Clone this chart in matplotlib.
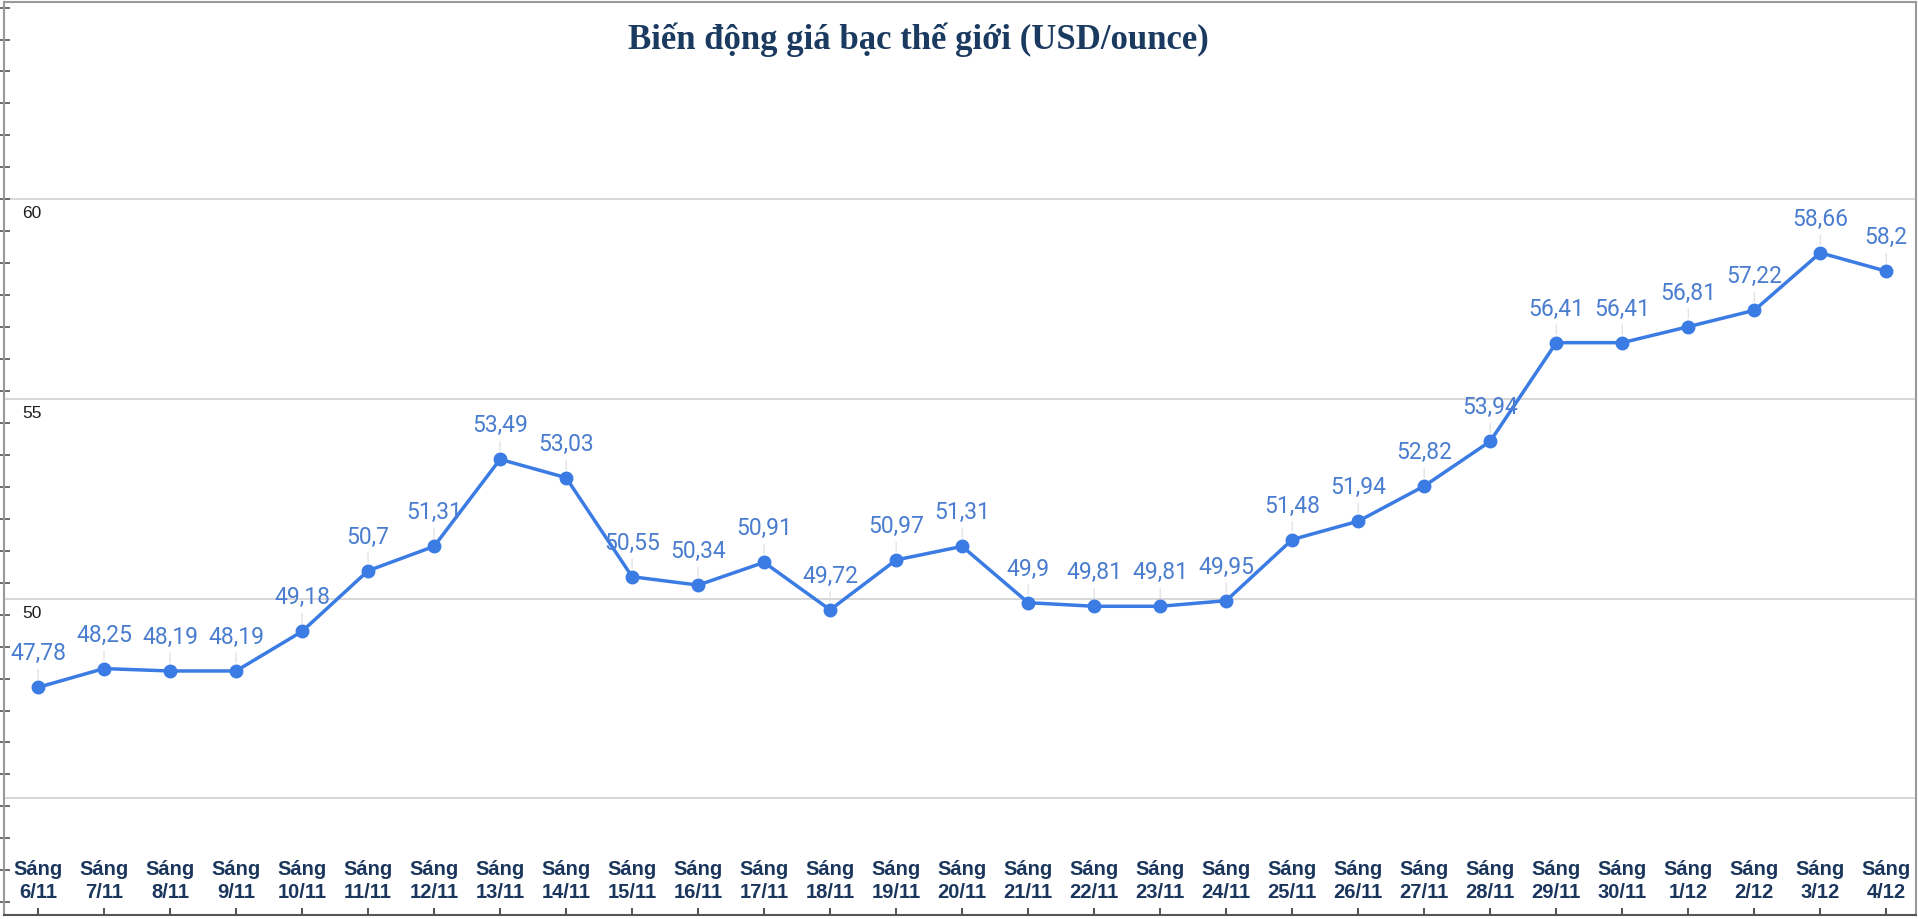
import numpy as np
import matplotlib
matplotlib.use("Agg")
import matplotlib.pyplot as plt
from matplotlib.ticker import MultipleLocator

# data: world silver price, USD/ounce, morning quotes
dates = ['6/11', '7/11', '8/11', '9/11', '10/11', '11/11', '12/11', '13/11', '14/11',
         '15/11', '16/11', '17/11', '18/11', '19/11', '20/11', '21/11', '22/11', '23/11',
         '24/11', '25/11', '26/11', '27/11', '28/11', '29/11', '30/11',
         '1/12', '2/12', '3/12', '4/12']
prices = [47.78, 48.25, 48.19, 48.19, 49.18, 50.7, 51.31, 53.49, 53.03,
          50.55, 50.34, 50.91, 49.72, 50.97, 51.31, 49.9, 49.81, 49.81,
          49.95, 51.48, 51.94, 52.82, 53.94, 56.41, 56.41,
          56.81, 57.22, 58.66, 58.2]
gridvals = [45, 50, 55, 60, 65]
ylabels = [50, 55, 60]
title = 'Biến động giá bạc thế giới (USD/ounce)'

W, H = 1918, 919
fig = plt.figure(figsize=(W / 100, H / 100), dpi=100)
ax = fig.add_axes([4 / W, 4 / H, 1912 / W, 913 / H])

x = np.arange(len(prices))
line_col = '#3b7be4'
ax.plot(x, prices, color=line_col, lw=2.5, marker='o', ms=9, zorder=3)

# value labels with faint leader lines
for xi, v in zip(x, prices):
    ax.annotate(str(v).replace('.', ','), xy=(xi, v), xytext=(0, 19.5),
                textcoords='offset points', ha='center', va='baseline',
                fontsize=16.5, family='Roboto', color='#4a7dcf', zorder=4,
                arrowprops=dict(arrowstyle='-', color='#dcdcdc', lw=0.8,
                                shrinkA=1, shrinkB=6))

ax.set_xlim(-0.515, 28.45)
ax.set_ylim(42.08, 64.94)

# gridlines
for t in gridvals:
    ax.axhline(t, color='#d4d4d4', lw=1.3, zorder=1)

# y labels sit inside the plot, just under their gridline
for t in ylabels:
    ax.annotate(str(t), xy=(0.0094, t), xycoords=('axes fraction', 'data'),
                xytext=(0, -5), textcoords='offset points', ha='left', va='top',
                fontsize=12.5, family='Liberation Sans', color='#1e1e1e')

# category labels inside the bottom of the plot
for xi, d in zip(x, dates):
    ax.text(xi, 0.014, 'Sáng\n' + d, transform=ax.get_xaxis_transform(),
            ha='center', va='bottom', fontsize=14.5, fontweight='bold',
            family='Liberation Sans', color='#1b365d', linespacing=1.25)

ax.set_xticks(x)
ax.set_xticklabels([])
ax.tick_params(axis='x', direction='in', length=5, color='#333333', width=1.2)
ax.set_yticks([])
ax.yaxis.set_minor_locator(MultipleLocator(0.8))
ax.tick_params(axis='y', which='minor', direction='inout', length=8,
               color='#555555', width=1.2)

for side in ['top', 'right', 'left']:
    ax.spines[side].set_color('#999999')
    ax.spines[side].set_linewidth(1.5)
ax.spines['bottom'].set_color('#555555')
ax.spines['bottom'].set_linewidth(1.5)

fig.text(918 / W, 1 - 40 / H, title, ha='center', va='center',
         fontsize=25, fontweight='bold', family='Liberation Serif', color='#1b3a60')

fig.savefig('out.png', dpi=100, facecolor='white')
